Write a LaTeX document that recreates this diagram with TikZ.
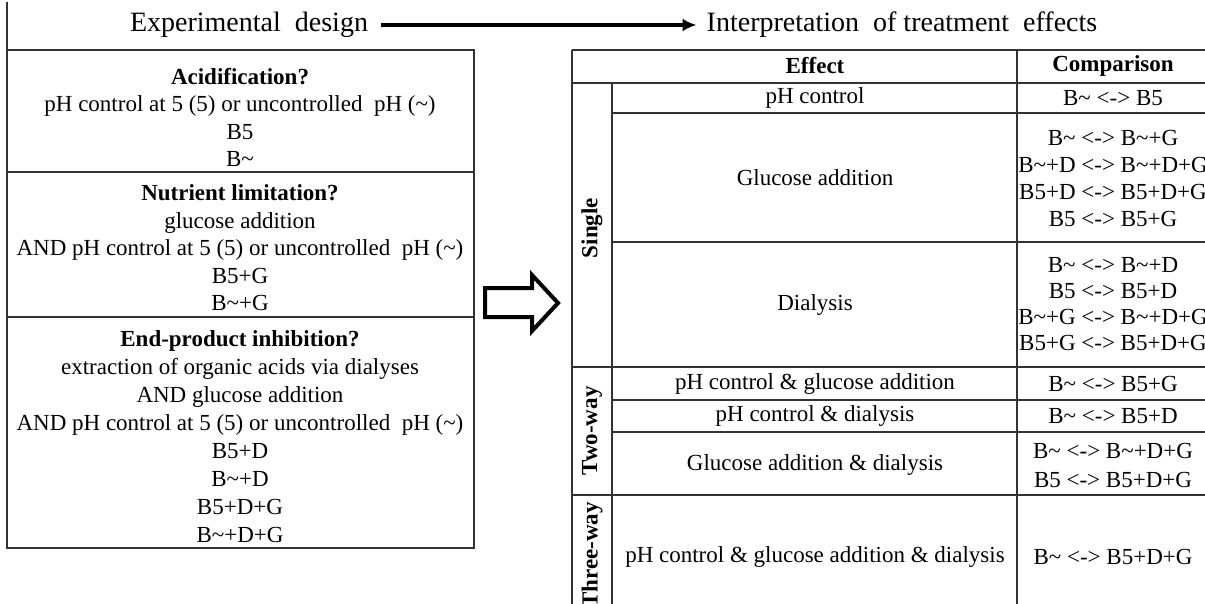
\documentclass[tikz,border=0pt]{standalone}
\usepackage{fontspec}
\setmainfont{Liberation Serif}
\usetikzlibrary{arrows.meta}
\newcommand{\tld}{\textasciitilde}
\begin{document}
\begin{tikzpicture}[x=1pt,y=-1pt,
  tline/.style={line width=1.8pt, draw=black!80},
  title/.style={font=\fontsize{28}{32}\selectfont, inner sep=6pt},
  body/.style={font=\fontsize{23}{27.5}\selectfont, align=center, inner sep=0pt},
  cell/.style={font=\fontsize{23}{27}\selectfont, align=center, inner sep=0pt},
  grp/.style={font=\fontsize{23}{27}\selectfont\bfseries, rotate=90, inner sep=0pt}]
\useasboundingbox (0,0) rectangle (1205,604);
\clip (0,0) rectangle (1205,604);
% titles and top arrow
\node[title] (ed) at (249,25) {Experimental\ \ design};
\node[title] (it) at (902,25) {Interpretation\ \ of treatment\ \ effects};
\draw[line width=3.2pt, -{Latex[length=14pt,width=13pt]}, shorten <=7pt, shorten >=4pt] (ed.east) -- (it.west);
% left box
\draw[tline] (7,2) -- (7,548) -- (474,548) -- (474,50) -- (7,50);
\draw[tline] (7,172) -- (474,172);
\draw[tline] (7,317) -- (474,317);
\node[body] (b1) at (240,117.5) {\textbf{Acidification?}\\pH control at 5 (5) or uncontrolled\ \ pH (\tld)\\B5\\B\tld};
\node[body] (b2) at (240,248) {\textbf{Nutrient limitation?}\\glucose addition\\AND pH control at 5 (5) or uncontrolled\ \ pH (\tld)\\B5+G\\B\tld+G};
\node[body, font=\fontsize{23}{28.1}\selectfont] (b3) at (240,436.5) {\textbf{End-product inhibition?}\\extraction of organic acids via dialyses\\AND glucose addition\\AND pH control at 5 (5) or uncontrolled\ \ pH (\tld)\\B5+D\\B\tld+D\\B5+D+G\\B\tld+D+G};
% hollow arrow
\draw[line width=4pt, line join=miter] (485,288) -- (532,288) -- (532,275) -- (558,303) -- (532,331) -- (532,317) -- (485,317) -- cycle;
% table grid
\draw[tline] (572,50) -- (572,604);
\draw[tline] (612,83) -- (612,604);
\draw[tline] (1017,50) -- (1017,604);
\draw[tline] (572,50) -- (1212,50);
\draw[tline] (572,83) -- (1212,83);
\draw[tline] (612,113) -- (1212,113);
\draw[tline] (612,242) -- (1212,242);
\draw[tline] (572,367) -- (1212,367);
\draw[tline] (612,400) -- (1212,400);
\draw[tline] (612,432) -- (1212,432);
\draw[tline] (572,495) -- (1212,495);
% header
\node[cell, font=\fontsize{23}{27}\selectfont\bfseries] (he) at (815,66) {Effect};
\node[cell, font=\fontsize{23}{27}\selectfont\bfseries] (hc) at (1113,66) {Comparison};
% group labels
\node[grp] (gs) at (592,228) {Single};
\node[grp] (gt) at (592,431) {Two-way};
\node[grp] (gh) at (592,555) {Three-way};
% effects
\node[cell] (e1) at (815,98) {pH control};
\node[cell] (e2) at (815,178) {Glucose addition};
\node[cell] (e3) at (815,305) {Dialysis};
\node[cell] (e4) at (815,384) {pH control \& glucose addition};
\node[cell] (e5) at (815,416) {pH control \& dialysis};
\node[cell] (e6) at (815,465) {Glucose addition \& dialysis};
\node[cell] (e7) at (815,557) {pH control \& glucose addition \& dialysis};
% comparisons
\node[cell] (c1) at (1113,98) {B\tld{} <-> B5};
\node[cell] (c2) at (1113,178) {B\tld{} <-> B\tld+G\\B\tld+D <-> B\tld+D+G\\B5+D <-> B5+D+G\\B5 <-> B5+G};
\node[cell, font=\fontsize{23}{26}\selectfont] (c3) at (1113,304) {B\tld{} <-> B\tld+D\\B5 <-> B5+D\\B\tld+G <-> B\tld+D+G\\B5+G <-> B5+D+G};
\node[cell] (c4) at (1113,384) {B\tld{} <-> B5+G};
\node[cell] (c5) at (1113,416) {B\tld{} <-> B5+D};
\node[cell, font=\fontsize{23}{29}\selectfont] (c6) at (1113,465) {B\tld{} <-> B\tld+D+G\\B5 <-> B5+D+G};
\node[cell] (c7) at (1113,557) {B\tld{} <-> B5+D+G};
\end{tikzpicture}
\end{document}
